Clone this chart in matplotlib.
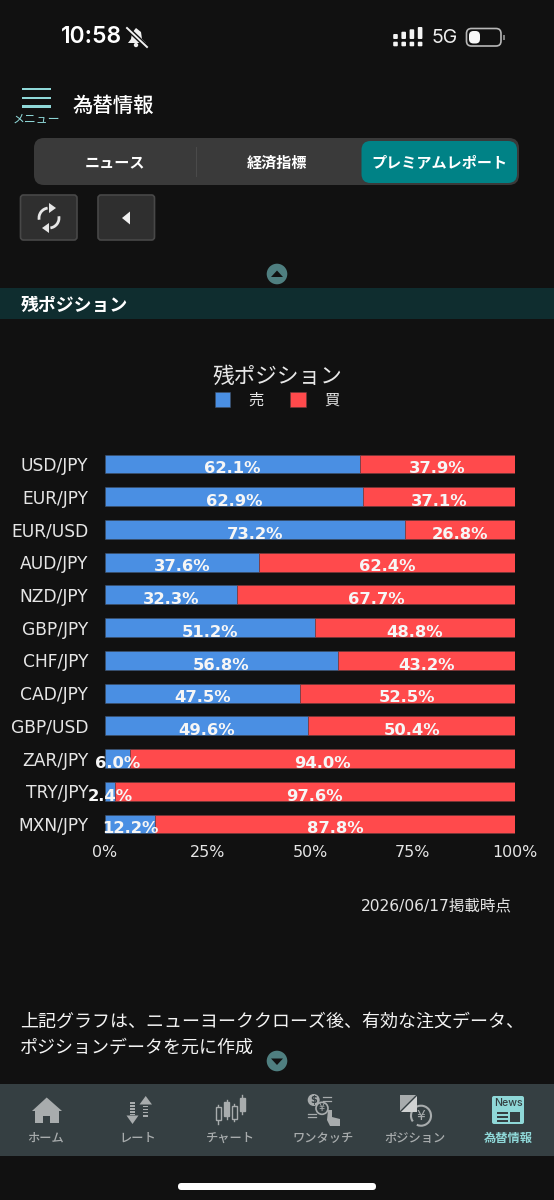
import matplotlib
matplotlib.use("Agg")
import matplotlib.pyplot as plt
from matplotlib.patches import FancyBboxPatch, Rectangle, Circle, Polygon, Arc

pairs = ["USD/JPY", "EUR/JPY", "EUR/USD", "AUD/JPY", "NZD/JPY", "GBP/JPY",
         "CHF/JPY", "CAD/JPY", "GBP/USD", "ZAR/JPY", "TRY/JPY", "MXN/JPY"]
sell = [62.1, 62.9, 73.2, 37.6, 32.3, 51.2, 56.8, 47.5, 49.6, 6.0, 2.4, 12.2]
buy = [37.9, 37.1, 26.8, 62.4, 67.7, 48.8, 43.2, 52.5, 50.4, 94.0, 97.6, 87.8]
x_ticks = [0, 25, 50, 75, 100]
tab_names = ["ホーム", "レート", "チャート", "ワンタッチ", "ポジション", "為替情報"]
seg_names = ["ニュース", "経済指標", "プレミアムレポート"]

BG = "#111111"
BLUE = "#4a8fe3"
RED = "#ff4a4c"
JP = ["Noto Sans CJK JP", "DejaVu Sans"]
MIX = ["DejaVu Sans", "Noto Sans CJK JP"]
W, H = 554, 1200

fig = plt.figure(figsize=(W / 100, H / 100), dpi=100, facecolor=BG)

# ---------- app chrome, in pixel coordinates ----------
ui = fig.add_axes([0, 0, 1, 1], zorder=0)
ui.set_xlim(0, W)
ui.set_ylim(H, 0)
ui.axis("off")


def rbox(x0, y0, x1, y1, r, fc, ec="none", lw=0, z=1):
    ui.add_patch(FancyBboxPatch((x0 + r, y0 + r), x1 - x0 - 2 * r, y1 - y0 - 2 * r,
                                boxstyle=f"round,pad={r},rounding_size={r}",
                                fc=fc, ec=ec, lw=lw, zorder=z))


def txt(x, y, s, size, color="#ffffff", ha="center", weight="normal", family=None, dy=1.5):
    ui.text(x, y + dy, s, fontsize=size, color=color, ha=ha, va="center",
            fontweight=weight, family=family or JP, zorder=5)


# status bar
txt(61, 37, "10:58", 16.5, ha="left", weight="semibold", family=["Inter"], dy=0)
ui.add_patch(Polygon([(128, 43), (131, 39), (132, 33), (136, 28), (141, 32), (142, 39), (146, 43)],
                     fc="#f0f0f0", ec="none", zorder=5))
ui.plot([127, 147], [28, 47], color=BG, lw=3.4, zorder=6)
ui.plot([127, 147], [28, 47], color="#f0f0f0", lw=1.4, zorder=7)
ui.add_patch(Circle((136, 45), 2.2, fc="#f0f0f0", zorder=5))
for i, top in enumerate([34, 31.7, 29.3, 27]):
    x = 395.5 + i * 8.2
    rbox(x - 2.3, top, x + 2.3, 39, 1, "#f4f4f4", z=5)
    rbox(x - 2.3, 41.7, x + 2.3, 46.3, 1, "#f4f4f4", z=5)
txt(431.5, 38, "5G", 14, ha="left", color="#eeeeee", family=["Inter"], dy=0)
rbox(466.5, 28.5, 501, 46, 5, "none", ec="#b8b8b8", lw=1.2, z=5)
rbox(469, 31, 480, 43.5, 4.5, "#f8f8f8", z=6)
ui.add_patch(Rectangle((503, 34.5), 1.7, 5, fc="#808080", zorder=5))

# header
for y in (89, 98, 106.5):
    ui.add_patch(Rectangle((21.5, y - 1.4), 29, 2.8, fc="#8fd8d8", zorder=5))
txt(36.5, 119, "メニュー", 8.6, color="#8fd8d8", dy=0.5)
txt(72.5, 104, "為替情報", 14.7, ha="left", weight="medium")

# segmented control
rbox(34, 138, 519, 185, 10, "#3a3a3a", z=1)
rbox(361.5, 141, 517, 183, 9, "#008286", z=2)
ui.plot([196, 196], [147, 176], color="#4a4a4a", lw=0.8, zorder=2)
for cx, name in zip([114.5, 277, 439], seg_names):
    txt(cx, 162, name, 10.9, weight="bold", dy=0.5)

# buttons
for x0, x1 in ((20.5, 77), (98, 154.5)):
    rbox(x0, 195, x1, 240, 3, "#2f2f2f", ec="#484848", lw=1.2, z=1)
ui.add_patch(Arc((49, 218), 20, 20, theta1=170, theta2=262, color="#e6e6e6", lw=2, zorder=5))
ui.add_patch(Arc((49, 218), 20, 20, theta1=-10, theta2=82, color="#e6e6e6", lw=2, zorder=5))
ui.add_patch(Polygon([(49, 203), (56, 208), (49, 213)], fc="#e6e6e6", zorder=5))
ui.add_patch(Polygon([(49, 223), (42, 228), (49, 233)], fc="#e6e6e6", zorder=5))
ui.add_patch(Polygon([(130, 211.5), (122, 218), (130, 224.5)], fc="#f0f0f0", zorder=5))

# scroll circles
ui.add_patch(Circle((277, 274), 10.3, fc="#4f7f80", zorder=3))
ui.add_patch(Polygon([(271, 277), (283, 277), (277, 270.5)], fc="#111111", zorder=4))
ui.add_patch(Circle((277, 1061), 10.3, fc="#4f7f80", zorder=6))
ui.add_patch(Polygon([(271, 1058.5), (283, 1058.5), (277, 1065)], fc="#111111", zorder=7))

# section band
ui.add_patch(Rectangle((0, 288), W, 31, fc="#0f2d2f", zorder=1))
txt(20.5, 304, "残ポジション", 12.9, ha="left", weight="bold")

# texts around the chart
txt(277, 375, "残ポジション", 15.6, color="#e8e8e8")
txt(511.5, 905, "2026/06/17掲載時点", 11.2, color="#e4e4e4", ha="right", family=MIX, dy=0.5)
txt(20, 1020, "上記グラフは、ニューヨーククローズ後、有効な注文データ、", 12.95, ha="left", color="#f4f4f4")
txt(20, 1046, "ポジションデータを元に作成", 12.95, ha="left", color="#f4f4f4")

# tab bar
ui.add_patch(Rectangle((0, 1084), W, 72, fc="#353f42", zorder=1))
GREY = "#a8acad"
TEAL = "#8fd8d8"
TAB = "#353f42"
for cx, name in zip([46, 138, 230, 323, 415, 508], tab_names):
    active = name == tab_names[-1]
    txt(cx, 1137, name, 8.8, color=TEAL if active else GREY, weight="bold" if active else "medium")

# home
ui.add_patch(Polygon([(32, 1111), (46.7, 1097.5), (62, 1111)], fc=GREY, zorder=5))
ui.add_patch(Polygon([(34.5, 1109), (59, 1109), (59, 1123), (50, 1123), (50, 1115.5), (43, 1115.5), (43, 1123), (34.5, 1123)],
                     fc=GREY, zorder=5))
# rate
ui.add_patch(Polygon([(126.5, 1115.5), (138.5, 1115.5), (132.5, 1124)], fc=GREY, zorder=5))
ui.add_patch(Polygon([(139.5, 1104.5), (152, 1104.5), (145.7, 1096)], fc=GREY, zorder=5))
for yy in (1102, 1105, 1108, 1111, 1113.5):
    ui.add_patch(Rectangle((130, yy), 5, 1.8, fc=GREY, zorder=5))
for yy in (1105.5, 1108.5, 1111.5, 1115):
    ui.add_patch(Rectangle((143, yy), 5.2, 1.8, fc=GREY, zorder=5))
# chart candles
for cx, y0, y1, w0, w1, filled in ((218, 1106.7, 1120, 1105, 1124, False),
                                   (226.7, 1101.7, 1115.7, 1100, 1118.5, True),
                                   (234, 1105.7, 1119, 1103.5, 1121, False),
                                   (242, 1097.7, 1111, 1094.5, 1114, True)):
    ui.plot([cx, cx], [w0, w1], color=GREY, lw=1, zorder=5)
    ui.add_patch(Rectangle((cx - 2.5, y0), 5, y1 - y0, fc=GREY if filled else TAB, ec=GREY, lw=1, zorder=6))
# one touch
ui.add_patch(Circle((313.7, 1100), 6, fc=GREY, ec="none", zorder=5))
ui.add_patch(Circle((322, 1108.3), 6, fc=TAB, ec=GREY, lw=1.2, zorder=6))
ui.text(313.7, 1100, "$", fontsize=7, color=TAB, ha="center", va="center", fontweight="bold", zorder=7)
ui.text(322, 1108.3, "¥", fontsize=7, color=GREY, ha="center", va="center", zorder=7)
ui.add_patch(Polygon([(328, 1110), (332, 1110), (332, 1117), (340, 1119), (340, 1126), (330, 1126), (327, 1120)],
                     fc=GREY, zorder=7))
ui.plot([323, 331], [1097, 1097], color=GREY, lw=0.9, zorder=5)
ui.plot([323, 331], [1100.5, 1100.5], color=GREY, lw=0.9, zorder=5)
ui.plot([308, 316], [1114, 1114], color=GREY, lw=0.9, zorder=5)
ui.plot([308, 316], [1117, 1117], color=GREY, lw=0.9, zorder=5)
# position
ui.add_patch(Rectangle((400, 1095), 17, 17, fc=GREY, zorder=5))
ui.add_patch(Polygon([(400, 1112), (417, 1095), (417, 1112)], fc="#d0d2d2", zorder=6))
ui.plot([400, 417], [1112, 1095], color=TAB, lw=1, zorder=7)
ui.add_patch(Arc((421, 1115.7), 20, 20, theta1=-215, theta2=115, color=GREY, lw=1.5, zorder=5))
ui.text(421, 1115.7, "¥", fontsize=10, color=GREY, ha="center", va="center", zorder=6)
# news
rbox(492, 1096, 524, 1124, 2, TEAL, z=5)
ui.text(508, 1103, "News", fontsize=7.6, color=TAB, ha="center", va="center",
        family="Inter", fontweight="medium", zorder=6)
for yy in (1113, 1117, 1121):
    ui.add_patch(Rectangle((497, yy - 0.7), 10.5, 1.4, fc=TAB, zorder=6))
ui.add_patch(Rectangle((510, 1112), 10, 9.5, fc=TAB, zorder=6))

# home indicator
rbox(178, 1183, 376, 1190, 3.4, "#ffffff", z=5)

# ---------- chart ----------
top, bottom, left, right = 447.6, 840.4, 105, 515
ax = fig.add_axes([left / W, 1 - bottom / H, (right - left) / W, (bottom - top) / H], zorder=2)
ax.patch.set_alpha(0)
y = list(range(len(pairs)))
bars_sell = ax.barh(y, sell, height=0.575, color=BLUE, edgecolor="#3f4f66", linewidth=0.4, label="売")
bars_buy = ax.barh(y, buy, left=sell, height=0.575, color=RED, edgecolor="#6a3a3c", linewidth=0.4, label="買")
ax.set_xlim(0, 100)
ax.set_ylim(len(pairs) - 0.5, -0.5)
ax.set_yticks(y, pairs)
ax.set_xticks(x_ticks, [f"{v}%" for v in x_ticks])
ax.tick_params(axis="y", length=0, pad=12, labelsize=12.3, labelcolor="#e6e6e6")
ax.tick_params(axis="x", length=0, pad=3.2, labelsize=11.4, labelcolor="#e6e6e6")
for s in ax.spines.values():
    s.set_visible(False)

for i in y:
    for start, value in ((0, sell[i]), (sell[i], buy[i])):
        ax.annotate(f"{value:.1f}%", (start + value / 2, i), xytext=(0, -3.4),
                    textcoords="offset points", ha="center", va="center",
                    fontsize=11.8, fontweight="bold", color="#f6f6f6",
                    annotation_clip=False, zorder=10)

leg = fig.legend(handles=[bars_sell, bars_buy], labels=["売", "買"], ncol=2,
                 loc="center", bbox_to_anchor=(277 / W, 1 - 400.5 / H),
                 frameon=False, prop={"family": JP, "size": 11},
                 handlelength=1.02, handleheight=1.15, handletextpad=1.2,
                 columnspacing=1.7, labelcolor="#e6e6e6")

fig.savefig("out.png", dpi=100, facecolor=BG)
